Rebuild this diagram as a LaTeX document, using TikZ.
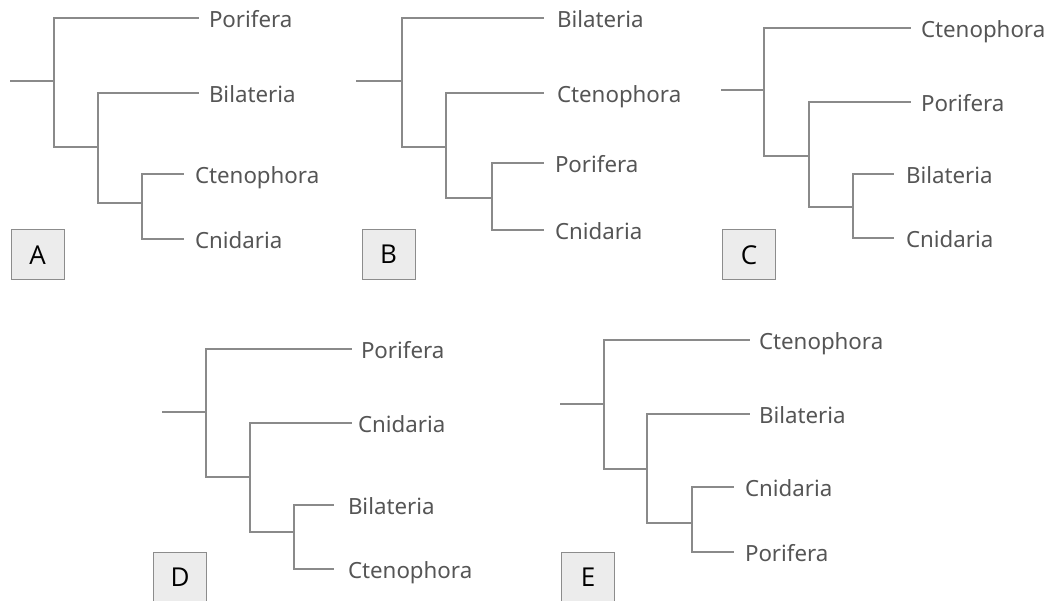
\documentclass[tikz,border=0pt]{standalone}
\usepackage{fontspec}
\setmainfont{Noto Sans}
\newfontfamily\boxfont{Open Sans}
\definecolor{linegray}{HTML}{8A8A8A}
\definecolor{textgray}{HTML}{555555}
\definecolor{boxfill}{HTML}{ECECEC}
\definecolor{boxline}{HTML}{8C8C8C}
\tikzset{
  branch/.style={draw=linegray, line width=1.3pt, line cap=rect},
  leaf/.style={anchor=west, inner xsep=0pt, inner ysep=0pt, outer xsep=12pt,
    text=textgray, font=\fontsize{22.3}{26}\selectfont, text height=19pt, text depth=0pt},
  tag/.style={draw=boxline, fill=boxfill, line width=1pt, minimum width=53pt, minimum height=50pt,
    inner sep=0pt, font=\boxfont\fontsize{26}{30}\selectfont, text=black, text height=18.5pt, text depth=0pt}
}
\begin{document}
\begin{tikzpicture}[x=1pt,y=-1pt]
\useasboundingbox (0,0) rectangle (1052,601);
\clip (0,0) rectangle (1052,601);
% ---------- A ----------
\coordinate (Ar) at (11,81);
\coordinate (Aj) at (54,81);
\coordinate (A1) at (54,147);
\coordinate (A2) at (98,147);
\coordinate (A3) at (98,203);
\coordinate (A4) at (142,203);
\node[leaf, outer xsep=11pt] (Al1) at (198,18) {Porifera};
\node[leaf, outer xsep=11pt] (Al2) at (198,93) {Bilateria};
\node[leaf, outer xsep=12pt] (Al3) at (183,174) {Ctenophora};
\node[leaf, outer xsep=12pt] (Al4) at (183,239) {Cnidaria};
\draw[branch] (Ar) -- (Aj);
\draw[branch] (Al1.west) -| (A1) -- (A2);
\draw[branch] (Al2.west) -| (A3) -- (A4);
\draw[branch] (Al3.west) -| (A4) |- (Al4.west);
\node[tag] (At) at (37.5,255) {A};
% ---------- B ----------
\coordinate (Br) at (357,81);
\coordinate (Bj) at (402,81);
\coordinate (B1) at (402,147);
\coordinate (B2) at (446,147);
\coordinate (B3) at (446,198);
\coordinate (B4) at (492,198);
\node[leaf, outer xsep=14pt] (Bl1) at (543,18) {Bilateria};
\node[leaf, outer xsep=14pt] (Bl2) at (543,93) {Ctenophora};
\node[leaf, outer xsep=12pt] (Bl3) at (543,163) {Porifera};
\node[leaf, outer xsep=12pt] (Bl4) at (543,230) {Cnidaria};
\draw[branch] (Br) -- (Bj);
\draw[branch] (Bl1.west) -| (B1) -- (B2);
\draw[branch] (Bl2.west) -| (B3) -- (B4);
\draw[branch] (Bl3.west) -| (B4) |- (Bl4.west);
\node[tag] (Bt) at (388.5,254.5) {B};
% ---------- C ----------
\coordinate (Cr) at (722,90);
\coordinate (Cj) at (764,90);
\coordinate (C1) at (764,156);
\coordinate (C2) at (809,156);
\coordinate (C3) at (809,207);
\coordinate (C4) at (853,207);
\node[leaf, outer xsep=11pt] (Cl1) at (910,28) {Ctenophora};
\node[leaf, outer xsep=11pt] (Cl2) at (910,102) {Porifera};
\node[leaf, outer xsep=13pt] (Cl3) at (893,174) {Bilateria};
\node[leaf, outer xsep=13pt] (Cl4) at (893,238) {Cnidaria};
\draw[branch] (Cr) -- (Cj);
\draw[branch] (Cl1.west) -| (C1) -- (C2);
\draw[branch] (Cl2.west) -| (C3) -- (C4);
\draw[branch] (Cl3.west) -| (C4) |- (Cl4.west);
\node[tag] (Ct) at (749,255) {C};
% ---------- D ----------
\coordinate (Dr) at (163,412);
\coordinate (Dj) at (206,412);
\coordinate (D1) at (206,477);
\coordinate (D2) at (250,477);
\coordinate (D3) at (250,532);
\coordinate (D4) at (294,532);
\node[leaf, outer xsep=10pt] (Dl1) at (351,349) {Porifera};
\node[leaf, outer xsep=7pt] (Dl2) at (351,423) {Cnidaria};
\node[leaf, outer xsep=15pt] (Dl3) at (333,505) {Bilateria};
\node[leaf, outer xsep=15pt] (Dl4) at (333,569) {Ctenophora};
\draw[branch] (Dr) -- (Dj);
\draw[branch] (Dl1.west) -| (D1) -- (D2);
\draw[branch] (Dl2.west) -| (D3) -- (D4);
\draw[branch] (Dl3.west) -| (D4) |- (Dl4.west);
\node[tag] (Dt) at (180,577) {D};
% ---------- E ----------
\coordinate (Er) at (561,404);
\coordinate (Ej) at (604,404);
\coordinate (E1) at (604,469);
\coordinate (E2) at (647,469);
\coordinate (E3) at (647,523);
\coordinate (E4) at (692,523);
\node[leaf, outer xsep=10pt] (El1) at (749,340) {Ctenophora};
\node[leaf, outer xsep=10pt] (El2) at (749,414) {Bilateria};
\node[leaf, outer xsep=12pt] (El3) at (733,487) {Cnidaria};
\node[leaf, outer xsep=12pt] (El4) at (733,552) {Porifera};
\draw[branch] (Er) -- (Ej);
\draw[branch] (El1.west) -| (E1) -- (E2);
\draw[branch] (El2.west) -| (E3) -- (E4);
\draw[branch] (El3.west) -| (E4) |- (El4.west);
\node[tag] (Et) at (588,577) {E};
\end{tikzpicture}
\end{document}
